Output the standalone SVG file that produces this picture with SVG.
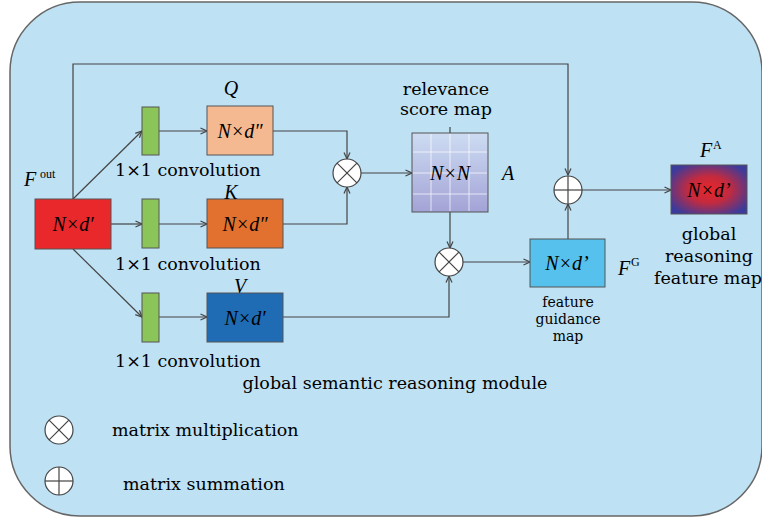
<svg xmlns="http://www.w3.org/2000/svg" width="762" height="519" viewBox="0 0 762 519">
  <defs>
    <style>
      .panel { fill: #bee1f4; stroke: #666; stroke-width: 1.5; }
      .box { stroke: #555; stroke-width: 1; }
      .wire { fill: none; stroke: #444; stroke-width: 1.2; }
      .op { fill: #fff; stroke: #444; stroke-width: 1.2; }
      .opline { stroke: #444; stroke-width: 1.2; }
      .lbl { font-family: "DejaVu Serif", "Liberation Serif", serif; font-size: 17.5px; fill: #000; }
      .small { font-family: "DejaVu Serif", "Liberation Serif", serif; font-size: 14px; fill: #000; }
      .math { font-family: "Liberation Serif", "DejaVu Serif", serif; font-style: italic; font-size: 20px; fill: #000; }
      .sym { font-family: "Liberation Serif", "DejaVu Serif", serif; font-style: italic; font-size: 20px; fill: #000; }
      .sup { font-family: "Liberation Serif", "DejaVu Serif", serif; font-size: 12px; fill: #000; }
      .grid { stroke: #fff; stroke-width: 1; opacity: 0.7; }
    </style>
    <marker id="arr" viewBox="0 0 8 8" refX="7.5" refY="4" markerWidth="8" markerHeight="8" markerUnits="userSpaceOnUse" orient="auto">
      <path d="M1,1 L7.5,4 L1,7" fill="none" stroke="#444" stroke-width="1.2"/>
    </marker>
    <linearGradient id="scoreFill" x1="0" y1="0" x2="0" y2="1">
      <stop offset="0" stop-color="#cddcf2"/>
      <stop offset="1" stop-color="#a3a3d6"/>
    </linearGradient>
    <radialGradient id="fusedFill" cx="0.5" cy="0.5" r="0.6">
      <stop offset="0" stop-color="#e8262a"/>
      <stop offset="0.45" stop-color="#c42a3e"/>
      <stop offset="1" stop-color="#3b3b9c"/>
    </radialGradient>
  </defs>

  <!-- module panel -->
  <rect class="panel" x="10" y="2" width="752" height="514" rx="70" ry="70"/>

  <!-- connectors -->
  <g id="connectors">
    <path class="wire" d="M73,199 V64 H568 V175" marker-end="url(#arr)"/>
    <path class="wire" d="M73,199 L142,131" marker-end="url(#arr)"/>
    <path class="wire" d="M111,224 H142" marker-end="url(#arr)"/>
    <path class="wire" d="M73,249 L142,317" marker-end="url(#arr)"/>
    <path class="wire" d="M159,131 H207" marker-end="url(#arr)"/>
    <path class="wire" d="M159,224 H207" marker-end="url(#arr)"/>
    <path class="wire" d="M159,317 H207" marker-end="url(#arr)"/>
    <path class="wire" d="M273,131 H347 V159" marker-end="url(#arr)"/>
    <path class="wire" d="M283,224 H347 V187" marker-end="url(#arr)"/>
    <path class="wire" d="M361,173 H412" marker-end="url(#arr)"/>
    <path class="wire" d="M450,127 V133"/>
    <path class="wire" d="M450,212 V248" marker-end="url(#arr)"/>
    <path class="wire" d="M283,317 H449 V276" marker-end="url(#arr)"/>
    <path class="wire" d="M463,262 H530" marker-end="url(#arr)"/>
    <path class="wire" d="M568,239 V204" marker-end="url(#arr)"/>
    <path class="wire" d="M582,190 H671" marker-end="url(#arr)"/>
  </g>

  <!-- input features -->
  <g id="f-out">
    <rect class="box" x="35" y="199" width="76" height="50" fill="#e8282a"/>
    <text class="math" x="73" y="231" text-anchor="middle">N×d′</text>
    <text class="sym" x="24" y="186">F</text>
    <text class="sup" x="40" y="178">out</text>
  </g>

  <!-- 1x1 convolutions -->
  <g id="conv-q">
    <rect class="box" x="142" y="107" width="17" height="48" fill="#8bc55a"/>
    <text class="lbl" x="115" y="176">1×1 convolution</text>
  </g>
  <g id="conv-k">
    <rect class="box" x="142" y="199" width="17" height="49" fill="#8bc55a"/>
    <text class="lbl" x="115" y="270">1×1 convolution</text>
  </g>
  <g id="conv-v">
    <rect class="box" x="142" y="293" width="17" height="49" fill="#8bc55a"/>
    <text class="lbl" x="115" y="367">1×1 convolution</text>
  </g>

  <!-- Q, K, V projections -->
  <g id="q">
    <rect class="box" x="207" y="106" width="66" height="49" fill="#f4b990"/>
    <text class="math" x="240" y="138" text-anchor="middle">N×d″</text>
    <text class="sym" x="231" y="95" text-anchor="middle">Q</text>
  </g>
  <g id="k">
    <rect class="box" x="207" y="199" width="76" height="49" fill="#e2702e"/>
    <text class="math" x="245" y="231" text-anchor="middle">N×d″</text>
    <text class="sym" x="231" y="198.5" text-anchor="middle">K</text>
  </g>
  <g id="v">
    <rect class="box" x="207" y="293" width="76" height="49" fill="#1f6cb5"/>
    <text class="math" x="245" y="325" text-anchor="middle">N×d′</text>
    <text class="sym" x="240" y="292.5" text-anchor="middle">V</text>
  </g>

  <!-- Q·K product -->
  <g id="mul-qk">
    <circle class="op" cx="347" cy="173" r="14"/>
    <line class="opline" x1="337.1" y1="163.1" x2="356.9" y2="182.9"/>
    <line class="opline" x1="356.9" y1="163.1" x2="337.1" y2="182.9"/>
  </g>

  <!-- relevance score map -->
  <g id="score-map">
    <rect class="box" x="412" y="133" width="76" height="79" fill="url(#scoreFill)"/>
    <line class="grid" x1="431" y1="134" x2="431" y2="211"/>
    <line class="grid" x1="450" y1="134" x2="450" y2="211"/>
    <line class="grid" x1="469" y1="134" x2="469" y2="211"/>
    <line class="grid" x1="413" y1="152" x2="487" y2="152"/>
    <line class="grid" x1="413" y1="173" x2="487" y2="173"/>
    <line class="grid" x1="413" y1="194" x2="487" y2="194"/>
    <text class="math" x="450" y="180" text-anchor="middle">N×N</text>
    <text class="sym" x="508" y="180" text-anchor="middle">A</text>
    <text class="lbl" x="446" y="95" text-anchor="middle">relevance</text>
    <text class="lbl" x="446" y="115" text-anchor="middle">score map</text>
  </g>

  <!-- A·V product -->
  <g id="mul-av">
    <circle class="op" cx="449" cy="262" r="14"/>
    <line class="opline" x1="439.1" y1="252.1" x2="458.9" y2="271.9"/>
    <line class="opline" x1="458.9" y1="252.1" x2="439.1" y2="271.9"/>
  </g>

  <!-- feature guidance map -->
  <g id="f-g">
    <rect class="box" x="530" y="239" width="75" height="48" fill="#55c1ec"/>
    <text class="math" x="567" y="270" text-anchor="middle">N×d’</text>
    <text class="sym" x="618" y="275">F</text>
    <text class="sup" x="631" y="266">G</text>
    <text class="small" x="568" y="307" text-anchor="middle">feature</text>
    <text class="small" x="568" y="324" text-anchor="middle">guidance</text>
    <text class="small" x="568" y="341" text-anchor="middle">map</text>
  </g>

  <!-- residual sum -->
  <g id="sum">
    <circle class="op" cx="568" cy="190" r="14"/>
    <line class="opline" x1="554" y1="190" x2="582" y2="190"/>
    <line class="opline" x1="568" y1="176" x2="568" y2="204"/>
  </g>

  <!-- global reasoning feature map -->
  <g id="f-a">
    <rect class="box" x="671" y="165" width="76" height="49" fill="url(#fusedFill)"/>
    <text class="math" x="709" y="197" text-anchor="middle">N×d’</text>
    <text class="sym" x="700" y="157">F</text>
    <text class="sup" x="713" y="149">A</text>
    <text class="lbl" x="709" y="240" text-anchor="middle">global</text>
    <text class="lbl" x="709" y="262" text-anchor="middle">reasoning</text>
    <text class="lbl" x="708" y="284" text-anchor="middle">feature map</text>
  </g>

  <!-- module caption -->
  <text class="lbl" x="395" y="389" text-anchor="middle">global semantic reasoning module</text>

  <!-- legend -->
  <g id="legend-mul">
    <circle class="op" cx="59" cy="430" r="14"/>
    <line class="opline" x1="49.1" y1="420.1" x2="68.9" y2="439.9"/>
    <line class="opline" x1="68.9" y1="420.1" x2="49.1" y2="439.9"/>
    <text class="lbl" x="112" y="436">matrix multiplication</text>
  </g>
  <g id="legend-sum">
    <circle class="op" cx="59" cy="481" r="14"/>
    <line class="opline" x1="45" y1="481" x2="73" y2="481"/>
    <line class="opline" x1="59" y1="467" x2="59" y2="495"/>
    <text class="lbl" x="123" y="490">matrix summation</text>
  </g>
</svg>
